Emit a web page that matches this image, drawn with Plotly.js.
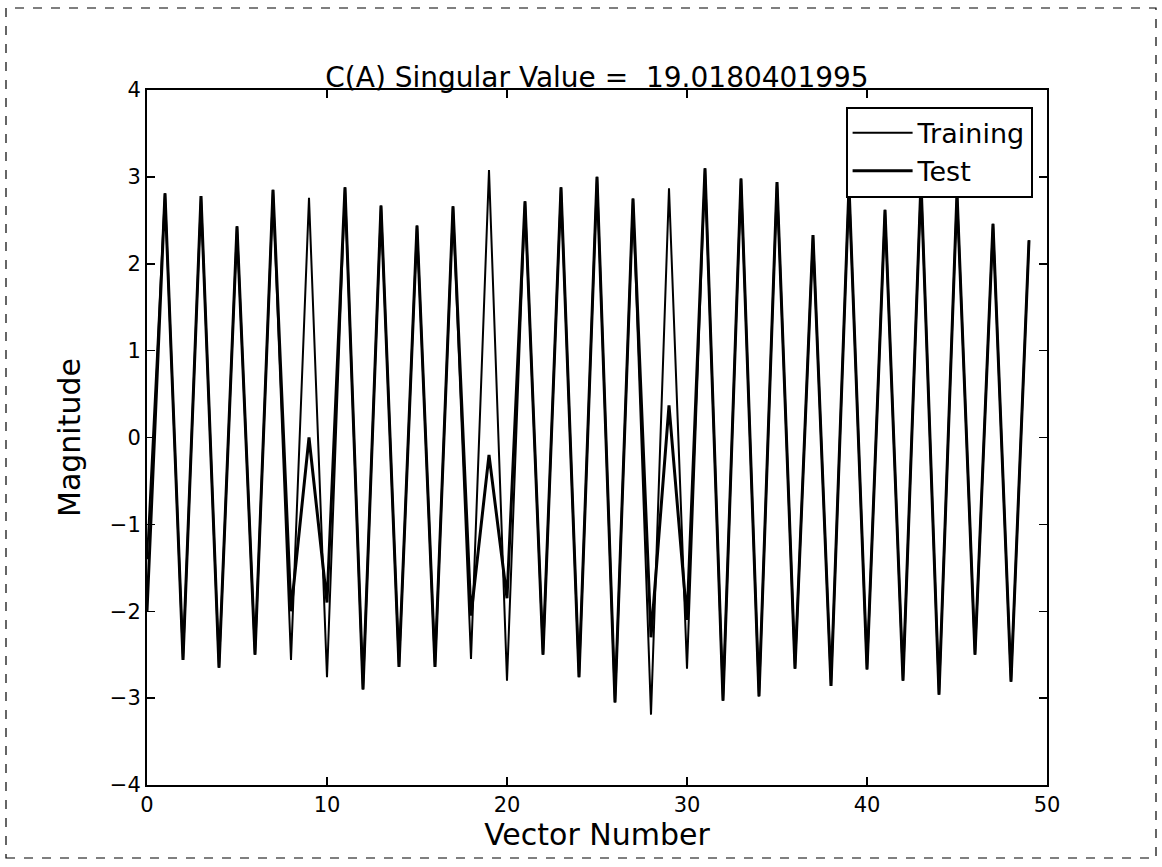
<!DOCTYPE html>
<html>
<head>
<meta charset="utf-8">
<script src="https://cdn.plot.ly/plotly-3.0.1.min.js"></script>
<style>
  html, body { margin: 0; padding: 0; background: #ffffff; }
  #chart { width: 1162px; height: 867px; }
</style>
</head>
<body>
<div id="chart"></div>
<script>
const vectorNumber = [0,1,2,3,4,5,6,7,8,9,10,11,12,13,14,15,16,17,18,19,20,21,22,23,24,25,26,27,28,29,30,31,32,33,34,35,36,37,38,39,40,41,42,43,44,45,46,47,48,49];

const training = [-1.4, 2.81, -2.56, 2.78, -2.65, 2.43, -2.50, 2.85, -2.56, 2.76,
                  -2.76, 2.88, -2.90, 2.67, -2.64, 2.44, -2.64, 2.66, -2.55, 3.08,
                  -2.80, 2.72, -2.50, 2.88, -2.76, 3.00, -3.05, 2.75, -3.19, 2.87,
                  -2.66, 3.10, -3.03, 2.98, -2.98, 2.94, -2.66, 2.33, -2.86, 2.90,
                  -2.67, 2.62, -2.80, 2.95, -2.96, 2.82, -2.50, 2.46, -2.81, 2.27];

const test = [-2.0, 2.81, -2.56, 2.78, -2.65, 2.43, -2.50, 2.85, -2.0, 0.0,
              -1.9, 2.88, -2.90, 2.67, -2.64, 2.44, -2.64, 2.66, -2.05, -0.2,
              -1.85, 2.72, -2.50, 2.88, -2.76, 3.00, -3.05, 2.75, -2.3, 0.37,
              -2.1, 3.10, -3.03, 2.98, -2.98, 2.94, -2.66, 2.33, -2.86, 2.90,
              -2.67, 2.62, -2.80, 2.95, -2.96, 2.82, -2.50, 2.46, -2.81, 2.27];

const seriesNames = ["Training", "Test"];
const titleText = "C(A) Singular Value =  19.0180401995";
const xTitle = "Vector Number";
const yTitle = "Magnitude";

const FONT = "DejaVu Sans, sans-serif";

const traces = [
  { x: vectorNumber, y: training, name: seriesNames[0], type: "scatter", mode: "lines",
    line: { color: "#000000", width: 2 } },
  { x: vectorNumber, y: test, name: seriesNames[1], type: "scatter", mode: "lines",
    line: { color: "#000000", width: 3 } }
];

const axisCommon = {
  showgrid: false, zeroline: false,
  showline: true, linecolor: "#000000", linewidth: 2, mirror: "ticks",
  ticks: "inside", ticklen: 8, tickwidth: 1.5, tickcolor: "#000000",
  tickfont: { family: FONT, size: 21, color: "#000000" }
};

const layout = {
  width: 1162, height: 867,
  paper_bgcolor: "#ffffff", plot_bgcolor: "#ffffff",
  margin: { l: 147, r: 115, t: 90, b: 82 },
  font: { family: FONT, color: "#000000" },
  title: { text: titleText, font: { family: FONT, size: 28, color: "#000000" },
           x: 0.5, xref: "paper", xanchor: "center",
           y: 1, yref: "paper", yanchor: "bottom", pad: { b: 3 } },
  xaxis: Object.assign({}, axisCommon, {
    range: [0, 50], tickmode: "array", tickvals: [0,10,20,30,40,50],
    title: { text: xTitle, font: { family: FONT, size: 30, color: "#000000" }, standoff: 6 }
  }),
  yaxis: Object.assign({}, axisCommon, {
    range: [-4, 4], tickmode: "array", tickvals: [-4,-3,-2,-1,0,1,2,3,4],
    title: { text: yTitle, font: { family: FONT, size: 30, color: "#000000" }, standoff: 20 }
  }),
  showlegend: true,
  legend: {
    x: 0.984, xanchor: "right", y: 0.976, yanchor: "top",
    bgcolor: "#ffffff", bordercolor: "#000000", borderwidth: 2,
    itemwidth: 60,
    font: { family: FONT, size: 27, color: "#000000" }
  },
  shapes: [
    { type: "rect", xref: "paper", yref: "paper",
      x0: (6 - 147) / 900, x1: (1156 - 147) / 900,
      y0: (785 - 858) / 695, y1: (785 - 8) / 695,
      line: { color: "#000000", width: 1.2, dash: "dash" }, fillcolor: "rgba(0,0,0,0)" }
  ]
};

Plotly.newPlot("chart", traces, layout, { displayModeBar: false, staticPlot: true });
</script>
</body>
</html>
